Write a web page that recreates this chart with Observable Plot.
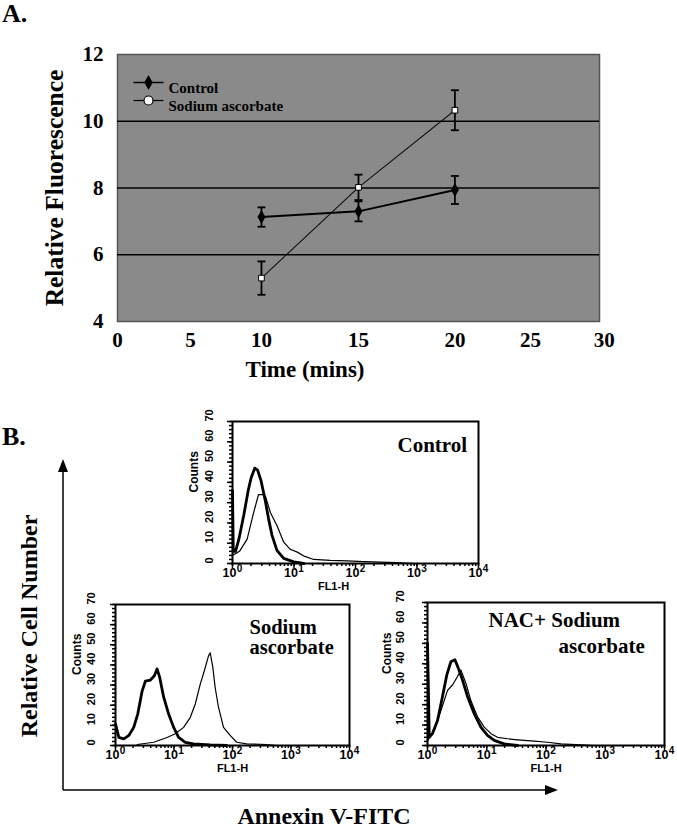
<!DOCTYPE html>
<html><head><meta charset="utf-8">
<script src="https://cdn.jsdelivr.net/npm/d3@7"></script>
<script src="https://cdn.jsdelivr.net/npm/@observablehq/plot@0.6"></script>
<style>
body{margin:0;background:#fff;}
#fig{position:relative;width:677px;height:828px;overflow:hidden;background:#fff;}
#fig > svg, #fig > div{position:absolute;}
</style></head><body><div id="fig"></div>
<script>
// ---------- Panel A data ----------
const times = [10, 15, 20];
const controlMean = [7.13, 7.3, 7.94];
const controlErr = [0.29, 0.3, 0.42];
const ascorbateMean = [5.3, 8.02, 10.33];
const ascorbateErr = [0.5, 0.38, 0.6];
const seriesNames = ["Control", "Sodium ascorbate"];
const xTicksA = [0, 5, 10, 15, 20, 25, 30];
// where each time tick sits along the (unevenly drawn) original time axis
const xTickPlacement = [0, 4.54, 8.96, 15.0, 21.0, 25.7, 30.3];
const yTicksA = [4, 6, 8, 10, 12];
const gridA = [6, 8, 10];

// ---------- Panel B data: flow cytometry histograms [FL1-H, counts] ----------
const controlThick = [[1,36],[1.03,6],[1.12,6],[1.27,12],[1.53,24],[1.8,36],[2.0,42],[2.3,47],[2.56,46],[2.9,41],[3.41,31],[3.86,22],[4.38,14],[5.28,6.5],[6.8,2.5],[9.9,0.8],[14.4,0]];
const controlThin = [[1,4],[1.3,6],[1.73,12],[2.2,25],[2.65,34],[3.1,34],[3.45,33],[4.15,25],[5.3,18.6],[6.8,10.5],[8.7,7],[11.3,5.6],[15,3.5],[20.9,2],[39,1.5],[73,1.3],[137,0.9],[477,0.4],[888,0]];
const ascorbateThick = [[1,10.7],[1.14,4],[1.39,3.3],[1.69,5],[2.05,9],[2.4,15.6],[2.85,27],[3.25,32],[3.95,32.5],[4.62,34.6],[5.13,38],[5.7,33.8],[6.66,24],[8.1,15.6],[9.86,9],[12,4],[15.6,1.6],[21.6,0.8],[41.7,0.3],[80,0]];
const ascorbateThin = [[2.34,0.5],[4.5,1.6],[7.6,4],[10.5,5.8],[14.6,9],[19,14],[23.1,20.6],[28.1,30.5],[32.9,37],[38.9,44.5],[41.6,46],[46,39],[50.5,28.8],[57.6,19],[70.2,9],[91.2,5],[118,1.6],[175,0.8],[384,0.5],[570,0]];
const nacThick = [[1,50],[1.04,25],[1.07,4],[1.21,5.8],[1.48,12.4],[1.79,24],[2.12,34.6],[2.48,41],[2.9,42],[3.3,38],[3.9,32],[4.74,24],[6.14,15.6],[7.96,9],[10.3,5],[13.4,2.5],[19.7,0.8],[33.2,0]];
const nacThin = [[1,2],[1.07,4],[1.3,7.4],[1.68,17],[2.18,27],[2.64,29.6],[3.21,33.8],[3.66,37],[4.44,30.5],[5.4,22],[7,14],[9.06,9],[11.8,5.8],[15.2,4],[22.5,3.3],[33.2,2.8],[63.3,2.1],[106,1.6],[179,0.8],[390,0.3],[650,0]];
const logTicks = [1, 10, 100, 1000, 10000];
const countTicks = [0, 10, 20, 30, 40, 50, 60, 70];

const fig = document.getElementById("fig");
const SERIF = "Liberation Serif, Times New Roman, serif";
const SANS = "Liberation Sans, Arial, sans-serif";

// horizontal-line symbol (error bar caps, legend lines)
const hLine = {draw(ctx, size) { const r = Math.sqrt(size / Math.PI); ctx.moveTo(-r, 0); ctx.lineTo(r, 0); }};

// ---------- Panel A ----------
const warp = d3.scaleLinear().domain(xTicksA).range(xTickPlacement);
const rowsA = [];
[[controlMean, controlErr], [ascorbateMean, ascorbateErr]].forEach(([m, e], k) => {
  times.forEach((t, i) => rowsA.push({series: seriesNames[k], t, xp: warp(t), v: m[i], lo: m[i] - e[i], hi: m[i] + e[i]}));
});
const ctrlRows = rowsA.filter(d => d.series === seriesNames[0]);
const ascRows = rowsA.filter(d => d.series === seriesNames[1]);

const plotA = Plot.plot({
  width: 677, height: 390,
  marginLeft: 117, marginRight: 78, marginTop: 54, marginBottom: 69,
  style: {background: "none", fontFamily: SERIF, fontWeight: "bold", fontSize: "21px", color: "#000"},
  x: {domain: [0, 30]},
  y: {domain: [4, 12]},
  marks: [
    Plot.frame({fill: "#8a8a8a", stroke: "#555", strokeWidth: 1.5}),
    Plot.ruleY(gridA, {stroke: "#000", strokeWidth: 1.6}),
    Plot.axisX({ticks: xTicksA.map(warp), tickFormat: v => String(Math.round(warp.invert(v))), tickSize: 0, tickPadding: 11, label: null, fontSize: 21, fontWeight: "bold", fontFamily: SERIF}),
    Plot.axisY({ticks: yTicksA, tickSize: 0, tickPadding: 14, label: null, fontSize: 21, fontWeight: "bold", fontFamily: SERIF}),
    Plot.ruleX(rowsA, {x: "xp", y1: "lo", y2: "hi", stroke: "#000", strokeWidth: 1.8}),
    Plot.dot(rowsA, {x: "xp", y: "hi", symbol: hLine, r: 4, stroke: "#000", strokeWidth: 1.8}),
    Plot.dot(rowsA, {x: "xp", y: "lo", symbol: hLine, r: 4, stroke: "#000", strokeWidth: 1.8}),
    Plot.line(ascRows, {x: "xp", y: "v", stroke: "#111", strokeWidth: 1.1}),
    Plot.line(ctrlRows, {x: "xp", y: "v", stroke: "#000", strokeWidth: 2}),
    Plot.dot(ctrlRows, {x: "xp", y: "v", symbol: "diamond", r: 4.2, fill: "#000"}),
    Plot.dot(ascRows, {x: "xp", y: "v", symbol: "square", r: 3.2, fill: "#fff", stroke: "#000", strokeWidth: 1}),
    // legend
    Plot.dot([seriesNames[0]], {frameAnchor: "top-left", dx: 31, dy: 28, symbol: hLine, r: 15, stroke: "#000", strokeWidth: 1.5}),
    Plot.dot([seriesNames[0]], {frameAnchor: "top-left", dx: 31, dy: 28, symbol: "diamond", r: 4.5, fill: "#000"}),
    Plot.dot([seriesNames[1]], {frameAnchor: "top-left", dx: 31, dy: 46, symbol: hLine, r: 15, stroke: "#000", strokeWidth: 1.2}),
    Plot.dot([seriesNames[1]], {frameAnchor: "top-left", dx: 31, dy: 46, symbol: "circle", r: 4.5, fill: "#fff", stroke: "#000", strokeWidth: 1.2}),
    Plot.text([seriesNames[0]], {frameAnchor: "top-left", dx: 51, dy: 28, text: d => d, textAnchor: "start", fontSize: 15, fontWeight: "bold", fontFamily: SERIF}),
    Plot.text([seriesNames[1]], {frameAnchor: "top-left", dx: 51, dy: 46, text: d => d, textAnchor: "start", fontSize: 15, fontWeight: "bold", fontFamily: SERIF})
  ]
});
plotA.style.left = "0px"; plotA.style.top = "0px";
fig.appendChild(plotA);

// ---------- Panel B histograms ----------
const minorLog = d3.range(0, 4).flatMap(e => d3.range(1, 10).map(k => k * 10 ** e)).concat([10000]);

function hist({thick, thin, left, top, width, height, ml, mr, mt, mb, yLabOff, countsOff, flDx, labels}) {
  const p = Plot.plot({
    width, height, marginLeft: ml, marginRight: mr, marginTop: mt, marginBottom: mb,
    style: {background: "none", color: "#000"},
    x: {type: "log", domain: [1, 10000]},
    y: {domain: [0, 70]},
    marks: [
      Plot.line(thin, {x: d => d[0], y: d => d[1], stroke: "#000", strokeWidth: 1.2}),
      Plot.line(thick, {x: d => d[0], y: d => d[1], stroke: "#000", strokeWidth: 2.8}),
      Plot.frame({stroke: "#000", strokeWidth: 2}),
      Plot.axisX({ticks: minorLog, tickSize: 3, tickFormat: () => "", label: null, strokeWidth: 1.5}),
      Plot.axisX({ticks: logTicks, tickSize: 5, tickFormat: () => "", label: null, strokeWidth: 1.5}),
      Plot.axisY({ticks: d3.range(0, 71, 2), tickSize: 3, tickFormat: () => "", label: null, strokeWidth: 1.5}),
      Plot.axisY({ticks: countTicks, tickSize: 5, tickFormat: () => "", label: null, strokeWidth: 1.5}),
      // "10" with a raised exponent
      Plot.text(logTicks, {x: d => d, text: () => "10", frameAnchor: "bottom", dy: 13, dx: -3, fontSize: 12.5, fontWeight: "bold", fontFamily: SANS}),
      Plot.text(logTicks, {x: d => d, text: d => String(Math.round(Math.log10(d))), frameAnchor: "bottom", dy: 8, dx: 7, fontSize: 10, fontWeight: "bold", fontFamily: SANS}),
      Plot.text(countTicks, {y: d => d, text: d => String(d), frameAnchor: "left", dx: -yLabOff, rotate: -90, fontSize: 11, fontWeight: "bold", fontFamily: SANS}),
      Plot.text(["Counts"], {frameAnchor: "left", dx: -countsOff, rotate: -90, text: d => d, fontSize: 12, fontWeight: "bold", fontFamily: SANS}),
      Plot.text(["FL1-H"], {x: 100, frameAnchor: "bottom", dy: 26, dx: flDx, text: d => d, fontSize: 11, fontWeight: "bold", fontFamily: SANS}),
      ...labels.map(l => Plot.text([l.text], {frameAnchor: "top-left", dx: l.dx, dy: l.dy, text: d => d, textAnchor: "start", lineAnchor: "top", fontSize: l.size || 21, fontWeight: "bold", fontFamily: SERIF}))
    ]
  });
  p.style.left = left + "px"; p.style.top = top + "px";
  fig.appendChild(p);
}

hist({thick: controlThick, thin: controlThin, left: 170, top: 400, width: 320, height: 205, ml: 62, mr: 12, mt: 21, mb: 42,
      yLabOff: 23, countsOff: 38, flDx: -22, labels: [{text: "Control", dx: 165, dy: 16}]});
hist({thick: ascorbateThick, thin: ascorbateThin, left: 66, top: 590, width: 300, height: 195, ml: 49, mr: 17, mt: 14, mb: 40,
      yLabOff: 24, countsOff: 38, flDx: 0, labels: [{text: "Sodium", dx: 134, dy: 15, size: 20.5}, {text: "ascorbate", dx: 134, dy: 35, size: 20.5}]});
hist({thick: nacThick, thin: nacThin, left: 375, top: 585, width: 302, height: 200, ml: 52, mr: 13, mt: 17, mb: 40,
      yLabOff: 27, countsOff: 40, flDx: 0, labels: [{text: "NAC+ Sodium", dx: 61, dy: 10}, {text: "ascorbate", dx: 131, dy: 36}]});

// ---------- Figure-level labels and axis arrows ----------
const ns = "http://www.w3.org/2000/svg";
const over = document.createElementNS(ns, "svg");
over.setAttribute("width", 677); over.setAttribute("height", 828);
over.style.left = "0px"; over.style.top = "0px"; over.style.pointerEvents = "none";
over.innerHTML = `
  <g font-family="${SERIF}" font-weight="bold" fill="#000">
    <text x="2" y="22" font-size="26">A.</text>
    <text x="2" y="445" font-size="26">B.</text>
    <text x="305" y="377" font-size="23" text-anchor="middle">Time (mins)</text>
    <text transform="translate(63,188) rotate(-90)" font-size="25.5" text-anchor="middle">Relative Fluorescence</text>
    <text transform="translate(37,626) rotate(-90)" font-size="24" text-anchor="middle">Relative Cell Number</text>
    <text x="324" y="824" font-size="24" text-anchor="middle">Annexin V-FITC</text>
  </g>
  <g stroke="#000" stroke-width="1.5" fill="#000">
    <line x1="63" y1="790" x2="63" y2="470"/>
    <path d="M63 459 L58 472 L68 472 Z" stroke="none"/>
    <line x1="63" y1="790" x2="547" y2="790"/>
    <path d="M558 790 L545 785 L545 795 Z" stroke="none"/>
  </g>`;
fig.appendChild(over);
</script>
</body></html>
